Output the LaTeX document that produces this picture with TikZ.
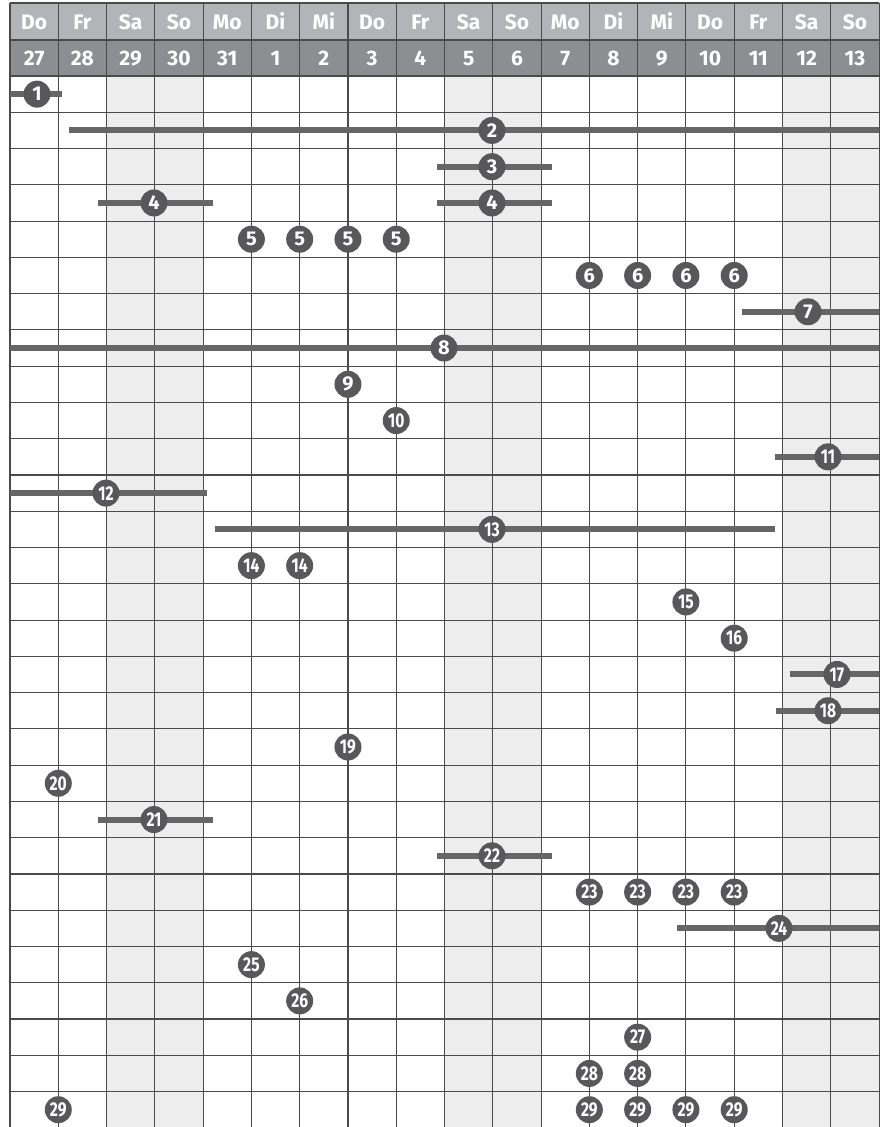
\documentclass[tikz,border=0pt]{standalone}
\usepackage{fontspec}
\setmainfont{Fira Sans}
\definecolor{hdrA}{HTML}{B3B4B7}
\definecolor{hdrB}{HTML}{8D8E91}
\definecolor{wkend}{HTML}{EDEDED}
\definecolor{gridc}{HTML}{4A4A4A}
\definecolor{mkc}{HTML}{58585A}
\definecolor{barc}{HTML}{666666}
\newcommand\nn[1]{\scalebox{0.78}[1]{#1}}
\newcommand\RY[1]{76+36.27*(#1-0.5)}
\newcommand\CX[1]{10+48.28*#1}
\begin{document}
\begin{tikzpicture}[x=1pt,y=-1pt,
  hdrtxt/.style={text=white,font=\fontsize{21}{21}\selectfont\bfseries,inner sep=0pt},
  mk/.style={circle,fill=mkc,text=white,minimum size=27pt,inner sep=0pt,font=\fontsize{20}{20}\selectfont\bfseries},
  barline/.style={barc,line width=6pt},
  gridline/.style={gridc,line width=1.1pt}]
\useasboundingbox (0,0) rectangle (879,1127);
\fill[white] (0,0) rectangle (879,1127);
% weekend columns
\foreach \k in {2,3,9,10,16,17}{
  \fill[wkend] ({\CX{\k}},76) rectangle ({\CX{(\k+1)}},1128);
}
% header
\fill[hdrA] (10,3) rectangle (879,40);
\fill[hdrB] (10,40) rectangle (879,76);
\foreach \d [count=\i from 0] in {Do,Fr,Sa,So,Mo,Di,Mi,Do,Fr,Sa,So,Mo,Di,Mi,Do,Fr,Sa,So}{
  \node[hdrtxt,anchor=base] (h\i) at ({\CX{(\i+0.5)}},29) {\d};
}
\foreach \d [count=\i from 0] in {27,28,29,30,31,1,2,3,4,5,6,7,8,9,10,11,12,13}{
  \node[hdrtxt,anchor=base] (d\i) at ({\CX{(\i+0.5)}},65.5) {\d};
}
% grid
\foreach \r in {0,...,29}{
  \draw[gridline] (10,{76+36.27*\r}) -- (879,{76+36.27*\r});
}
\draw[gridline] (10,3) -- (879,3);
\draw[gridline] (10,40) -- (879,40);
\foreach \k in {0,...,18}{
  \draw[gridline] ({\CX{\k}},3) -- ({\CX{\k}},1128);
}
% bars
\draw[barline] (10,{\RY{1}}) -- (62,{\RY{1}});
\draw[barline] (69,{\RY{2}}) -- (879,{\RY{2}});
\draw[barline] (437,{\RY{3}}) -- (552,{\RY{3}});
\draw[barline] (98,{\RY{4}}) -- (213,{\RY{4}});
\draw[barline] (437,{\RY{4}}) -- (552,{\RY{4}});
\draw[barline] (742,{\RY{7}}) -- (879,{\RY{7}});
\draw[barline] (10,{\RY{8}}) -- (879,{\RY{8}});
\draw[barline] (775,{\RY{11}}) -- (879,{\RY{11}});
\draw[barline] (10,{\RY{12}}) -- (207,{\RY{12}});
\draw[barline] (215,{\RY{13}}) -- (775,{\RY{13}});
\draw[barline] (790,{\RY{17}}) -- (879,{\RY{17}});
\draw[barline] (776,{\RY{18}}) -- (879,{\RY{18}});
\draw[barline] (98,{\RY{21}}) -- (213,{\RY{21}});
\draw[barline] (437,{\RY{22}}) -- (552,{\RY{22}});
\draw[barline] (677,{\RY{24}}) -- (879,{\RY{24}});
% markers
\node[mk] (m1) at (37,{\RY{1}}) {1};
\node[mk] (m2) at (492,{\RY{2}}) {2};
\node[mk] (m3) at (492,{\RY{3}}) {3};
\node[mk] (m4a) at (154,{\RY{4}}) {4};
\node[mk] (m4b) at (492,{\RY{4}}) {4};
\foreach \k in {5,6,7,8}{ \node[mk] (m5-\k) at ({\CX{\k}},{\RY{5}}) {5}; }
\foreach \k in {12,13,14,15}{ \node[mk] (m6-\k) at ({\CX{\k}},{\RY{6}}) {6}; }
\node[mk] (m7) at (808,{\RY{7}}) {7};
\node[mk] (m8) at (444,{\RY{8}}) {8};
\node[mk] (m9) at ({\CX{7}},{\RY{9}}) {9};
\node[mk] (m10) at ({\CX{8}},{\RY{10}}) {\nn{10}};
\node[mk] (m11) at (828,{\RY{11}}) {\nn{11}};
\node[mk] (m12) at (106,{\RY{12}}) {\nn{12}};
\node[mk] (m13) at (492,{\RY{13}}) {\nn{13}};
\node[mk] (m14a) at ({\CX{5}},{\RY{14}}) {\nn{14}};
\node[mk] (m14b) at ({\CX{6}},{\RY{14}}) {\nn{14}};
\node[mk] (m15) at ({\CX{14}},{\RY{15}}) {\nn{15}};
\node[mk] (m16) at ({\CX{15}},{\RY{16}}) {\nn{16}};
\node[mk] (m17) at (837,{\RY{17}}) {\nn{17}};
\node[mk] (m18) at (828,{\RY{18}}) {\nn{18}};
\node[mk] (m19) at ({\CX{7}},{\RY{19}}) {\nn{19}};
\node[mk] (m20) at ({\CX{1}},{\RY{20}}) {\nn{20}};
\node[mk] (m21) at (154,{\RY{21}}) {\nn{21}};
\node[mk] (m22) at (492,{\RY{22}}) {\nn{22}};
\foreach \k in {12,13,14,15}{ \node[mk] (m23-\k) at ({\CX{\k}},{\RY{23}}) {\nn{23}}; }
\node[mk] (m24) at (779,{\RY{24}}) {\nn{24}};
\node[mk] (m25) at ({\CX{5}},{\RY{25}}) {\nn{25}};
\node[mk] (m26) at ({\CX{6}},{\RY{26}}) {\nn{26}};
\node[mk] (m27) at ({\CX{13}},{\RY{27}}) {\nn{27}};
\node[mk] (m28a) at ({\CX{12}},{\RY{28}}) {\nn{28}};
\node[mk] (m28b) at ({\CX{13}},{\RY{28}}) {\nn{28}};
\foreach \k in {1,12,13,14,15}{ \node[mk] (m29-\k) at ({\CX{\k}},{\RY{29}}) {\nn{29}}; }
\end{tikzpicture}
\end{document}
